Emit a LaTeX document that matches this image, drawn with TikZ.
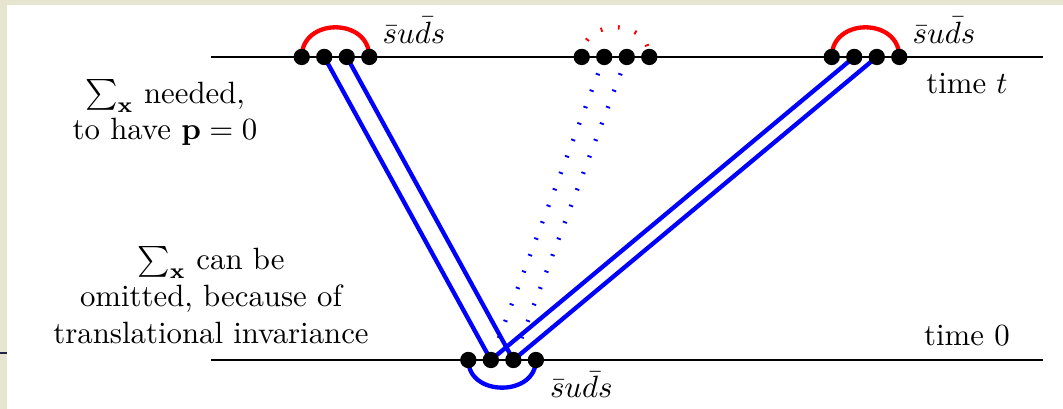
\documentclass[tikz,border=0pt]{standalone}
\usepackage{amsmath,amssymb}
\usetikzlibrary{backgrounds}
\definecolor{slidebeige}{RGB}{230,230,208}
\definecolor{slidenavy}{RGB}{35,35,70}

\begin{document}
\begin{tikzpicture}[line cap=round,line join=round,
  quark/.style={circle,fill=black,inner sep=0pt,minimum size=5.3pt},
  qline/.style={line width=1.4pt},
  qdots/.style={line width=1.4pt,line cap=butt,dash pattern=on 0.6pt off 5.1pt},
  timeline/.style={line width=0.5pt}]
 \useasboundingbox (0,0) rectangle (12.13,4.667);
 \fill[slidebeige] (0,0) rectangle (0.08,4.667);
 \fill[slidebeige] (0,4.61) rectangle (12.13,4.667);
 \fill[slidenavy] (0,0.63) rectangle (0.08,0.655);
 \foreach \k in {1,...,4}{
  \node[quark] (t\k) at ({3.186+0.257*\k},4.017) {};
  \node[quark] (m\k) at ({6.381+0.257*\k},4.017) {};
  \node[quark] (r\k) at ({9.234+0.257*\k},4.017) {};
  \node[quark] (b\k) at ({5.087+0.257*\k},0.559) {};
 }
 \coordinate (tl) at (2.408,4.017);
 \coordinate (tr) at (11.902,4.017);
 \coordinate (bl) at (2.408,0.559);
 \coordinate (br) at (11.902,0.559);
 \begin{scope}[on background layer]
  \draw[timeline] (tl) -- (tr);
  \draw[timeline] (bl) -- (br);
  \draw[red,qline,out=90,in=90,looseness=1.5] (t1.center) to (t4.center);
  \draw[red,qline,out=90,in=90,looseness=1.5] (r1.center) to (r4.center);
  \draw[red,qdots,out=90,in=90,looseness=1.5] (m1.center) to (m4.center);
  \draw[blue,qline,out=-90,in=-90,looseness=1.4] (b1.center) to (b4.center);
  \draw[blue,qline] (t2.center) -- (b2.center) (t3.center) -- (b3.center);
  \draw[blue,qline] (r2.center) -- (b2.center) (r3.center) -- (b3.center);
  \draw[blue,qdots] (m2.center) -- (b2.center) (m3.center) -- (b3.center);
 \end{scope}
 \node[anchor=base] (qtl) at (4.724,4.176) {$\bar s u\bar d s$};
 \node[anchor=base] (qtr) at (10.772,4.176) {$\bar s u\bar d s$};
 \node[anchor=base] (qb) at (6.633,0.126) {$\bar s u\bar d s$};
 \node[anchor=base] (timet) at (11.034,3.595) {time $t$};
 \node[anchor=base] (timez) at (11.034,0.719) {time 0};
 \node[align=center] (needed) at (1.883,3.378)
  {$\sum_{\mathbf x}$ needed,\\ to have $\mathbf p=0$};
 \node[align=center] (omitted) at (2.408,1.301)
  {$\sum_{\mathbf x}$ can be\\ omitted, because of\\ translational invariance};
\end{tikzpicture}
\end{document}
